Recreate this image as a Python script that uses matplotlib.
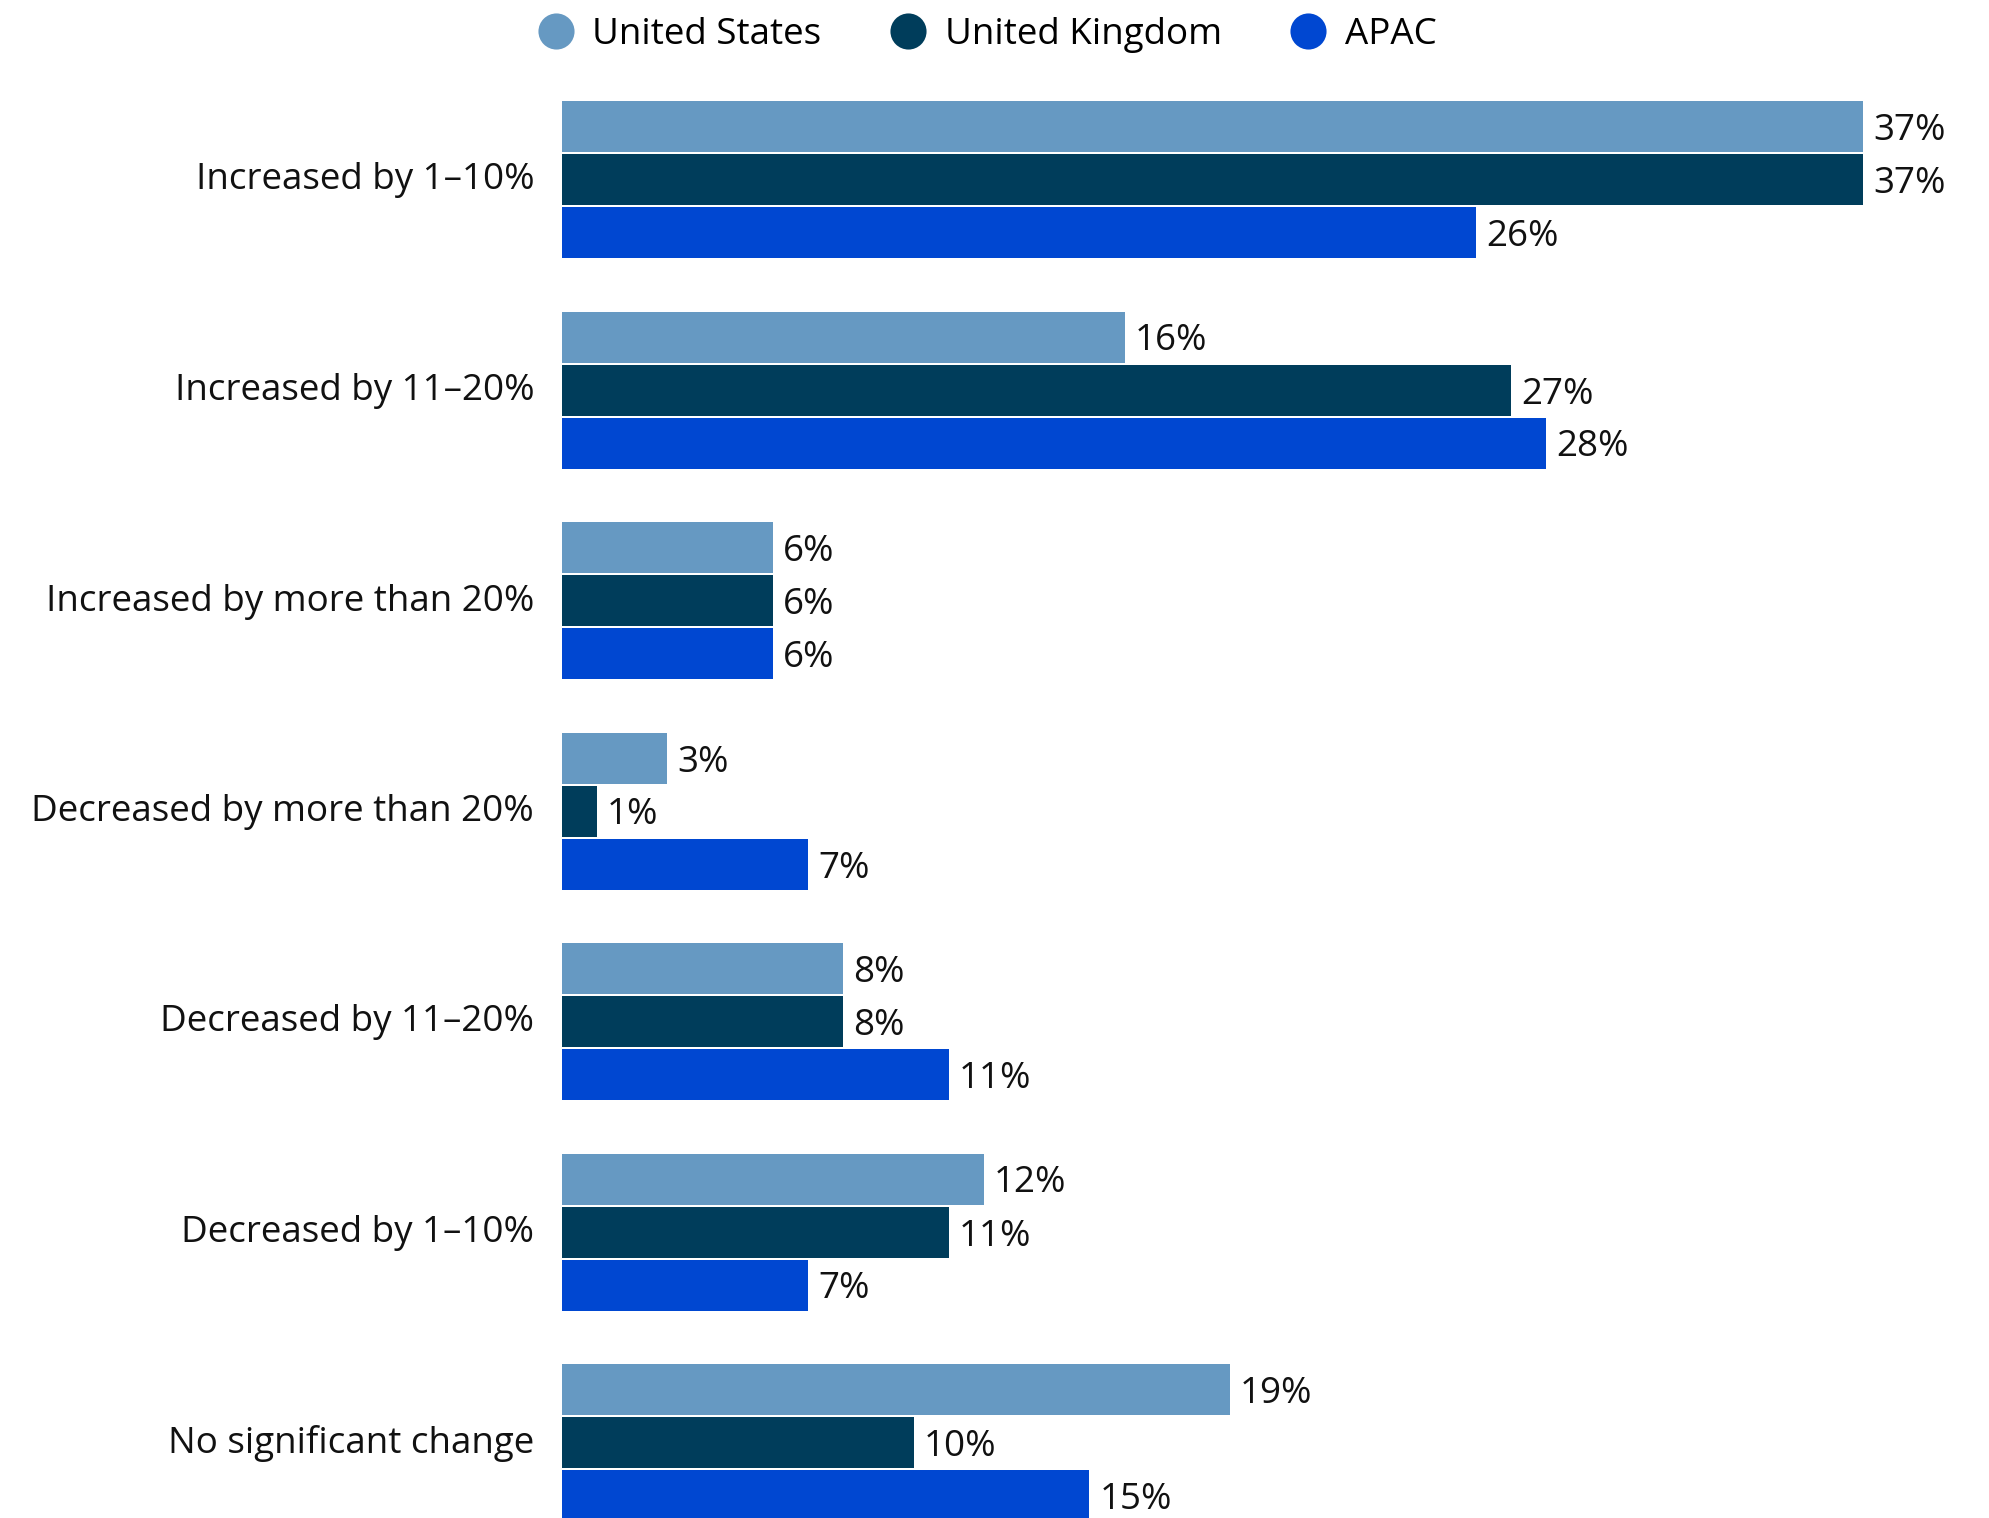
import numpy as np
import matplotlib
matplotlib.use('Agg')
import matplotlib.pyplot as plt
from matplotlib.lines import Line2D

plt.rcParams['font.family'] = ['Open Sans', 'DejaVu Sans']

categories = [
    'Increased by 1\u201310%',
    'Increased by 11\u201320%',
    'Increased by more than 20%',
    'Decreased by more than 20%',
    'Decreased by 11\u201320%',
    'Decreased by 1\u201310%',
    'No significant change',
]
series_names = ['United States', 'United Kingdom', 'APAC']
us_vals = [37, 16, 6, 3, 8, 12, 19]
uk_vals = [37, 27, 6, 1, 8, 11, 10]
apac_vals = [26, 28, 6, 7, 11, 7, 15]
colors = ['#6699c2', '#003d5b', '#0047d1']

W, H = 1990, 1518
fig = plt.figure(figsize=(W / 100, H / 100), dpi=100)

x0 = 562                       # left edge of bars in pixels
px_per_pct = 35.16
group_step = 210.5             # pixels between group starts
ax = fig.add_axes([x0 / W, 0, 1 - x0 / W, 1])
ax.set_xlim(0, (W - x0) / px_per_pct)
top_off = 179.5 / group_step
ax.set_ylim(H / group_step - top_off, -top_off)

bar_h = 51 / group_step
bar_step = 53 / group_step
y = np.arange(len(categories))
fs = 26.5

for k, (vals, col) in enumerate(zip([us_vals, uk_vals, apac_vals], colors)):
    yy = y + (k - 1) * bar_step
    ax.barh(yy, vals, height=bar_h, color=col, linewidth=0)
    for yi, v in zip(yy, vals):
        ax.text(v + 10 / px_per_pct, yi, f'{v}%', va='center_baseline',
                ha='left', fontsize=fs, color='#111111')

# category labels sit a touch above the group centre
ax.set_yticks(y - 3.5 / group_step)
ax.set_yticklabels(categories, fontsize=fs, color='#111111')
ax.tick_params(axis='y', length=0, pad=20)
ax.set_xticks([])
for s in ax.spines.values():
    s.set_visible(False)

handles = [Line2D([], [], marker='o', linestyle='none', markersize=26,
                  markerfacecolor=c, markeredgewidth=0) for c in colors]
fig.legend(handles, series_names, loc='center', bbox_to_anchor=(0.496, 1 - 35 / H),
           ncol=3, frameon=False, fontsize=fs, handletextpad=0.5,
           columnspacing=1.85, handlelength=1.0)

fig.savefig('out.png', dpi=100)
